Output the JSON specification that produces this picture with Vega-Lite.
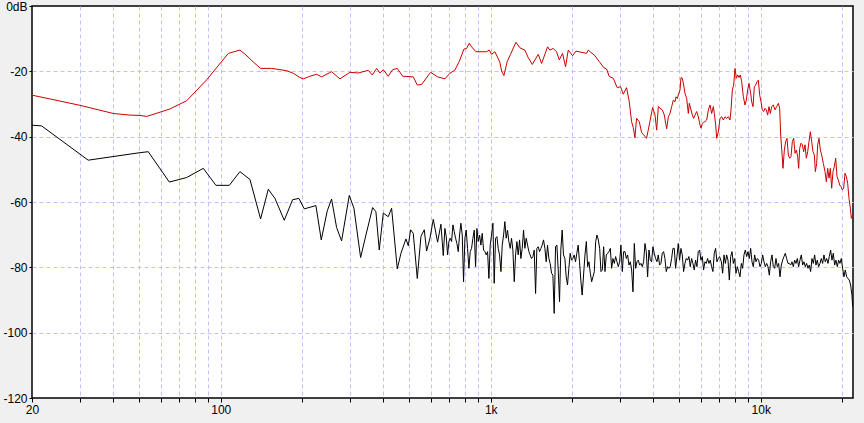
{
  "$schema": "https://vega.github.io/schema/vega-lite/v6.json",
  "width": 821,
  "height": 392,
  "autosize": {"type": "none"},
  "padding": {"left": 32, "top": 6, "right": 11, "bottom": 25},
  "background": "#f0f0f0",
  "config": {
    "view": {"fill": "#ffffff", "stroke": "#000000", "strokeWidth": 1.5},
    "axis": {
      "domain": false,
      "grid": true,
      "gridColor": "#c0c0ff",
      "gridDash": [4, 3],
      "gridWidth": 1,
      "tickColor": "#000000",
      "tickWidth": 1,
      "labelColor": "#000000",
      "labelFont": "Liberation Sans",
      "labelFontSize": 12,
      "labelOverlap": false,
      "labelFlush": false,
      "labelBound": false,
      "title": null
    }
  },
  "datasets": {
    "red": [
      {"f":20,"v":-27.3},{"f":21.4,"v":-27.8},{"f":30.1,"v":-30.4},{"f":40,"v":-32.9},{"f":46.1,"v":-33.4},{"f":50.2,"v":-33.5},{"f":53.2,"v":-33.8},{"f":59.6,"v":-32.5},{"f":64.9,"v":-31.5},{"f":74.8,"v":-29.0},{"f":88.7,"v":-22.6},{"f":106.7,"v":-14.5},{"f":117.8,"v":-13.5},{"f":122.9,"v":-14.7},{"f":133.9,"v":-17.6},{"f":140.5,"v":-19.1},{"f":154.3,"v":-19.1},{"f":175.4,"v":-19.8},{"f":185.6,"v":-20.6},{"f":196.5,"v":-21.9},{"f":202.2,"v":-22.3},{"f":214,"v":-21.5},{"f":226.5,"v":-20.9},{"f":236.4,"v":-21.7},{"f":257.4,"v":-20.1},{"f":276.4,"v":-22.3},{"f":301,"v":-20.3},{"f":323.2,"v":-20.5},{"f":351.9,"v":-19.7},{"f":364.2,"v":-21.1},{"f":377.9,"v":-19.1},{"f":388.7,"v":-20.5},{"f":400,"v":-19.5},{"f":417.4,"v":-21.5},{"f":433.1,"v":-19.5},{"f":450.7,"v":-19.1},{"f":471.7,"v":-21.5},{"f":516.6,"v":-21.7},{"f":534.5,"v":-24.2},{"f":554.7,"v":-24.0},{"f":598.8,"v":-20.3},{"f":635.7,"v":-21.7},{"f":676.7,"v":-22.3},{"f":706,"v":-20.6},{"f":736.8,"v":-19.6},{"f":764.5,"v":-17.0},{"f":795.5,"v":-13.2},{"f":813.8,"v":-13.0},{"f":832.6,"v":-11.4},{"f":849.3,"v":-12.5},{"f":881.2,"v":-14.0},{"f":965.2,"v":-14.0},{"f":987.4,"v":-13.5},{"f":1007,"v":-14.8},{"f":1036,"v":-14.0},{"f":1081,"v":-17.2},{"f":1097,"v":-19.9},{"f":1119,"v":-21.3},{"f":1151,"v":-17.0},{"f":1184,"v":-14.8},{"f":1240,"v":-11.1},{"f":1283,"v":-12.8},{"f":1338,"v":-13.5},{"f":1377,"v":-15.8},{"f":1425,"v":-17.9},{"f":1458,"v":-16.5},{"f":1500,"v":-14.8},{"f":1543,"v":-17.6},{"f":1624,"v":-12.5},{"f":1656,"v":-13.5},{"f":1704,"v":-13.0},{"f":1753,"v":-14.0},{"f":1794,"v":-16.5},{"f":1845,"v":-14.5},{"f":1893,"v":-18.6},{"f":1937,"v":-13.5},{"f":2010,"v":-15.2},{"f":2068,"v":-13.8},{"f":2265,"v":-14.5},{"f":2297,"v":-13.5},{"f":2431,"v":-15.2},{"f":2523,"v":-17.0},{"f":2625,"v":-18.9},{"f":2686,"v":-19.3},{"f":2748,"v":-21.6},{"f":2843,"v":-22.1},{"f":2941,"v":-25.0},{"f":3026,"v":-24.7},{"f":3096,"v":-27.0},{"f":3185,"v":-25.0},{"f":3259,"v":-29.3},{"f":3324,"v":-35.4},{"f":3372,"v":-37.2},{"f":3420,"v":-40.3},{"f":3469,"v":-34.4},{"f":3549,"v":-35.4},{"f":3620,"v":-38.7},{"f":3778,"v":-40.5},{"f":3865,"v":-36.4},{"f":3976,"v":-31.1},{"f":4056,"v":-33.2},
      {"f":4117,"v":-38.0},{"f":4176,"v":-30.8},{"f":4236,"v":-31.3},{"f":4321,"v":-31.8},{"f":4395,"v":-33.4},{"f":4445,"v":-35.9},{"f":4484,"v":-37.6},{"f":4548,"v":-33.9},{"f":4613,"v":-32.9},{"f":4679,"v":-30.8},{"f":4746,"v":-28.8},{"f":4814,"v":-29.3},{"f":4855,"v":-27.8},{"f":4911,"v":-28.3},{"f":4953,"v":-27.2},{"f":5024,"v":-25.7},{"f":5067,"v":-21.9},{"f":5124,"v":-22.1},{"f":5183,"v":-24.2},{"f":5242,"v":-26.7},{"f":5318,"v":-28.3},{"f":5393,"v":-32.9},{"f":5440,"v":-29.8},{"f":5518,"v":-31.8},{"f":5581,"v":-33.4},{"f":5645,"v":-34.4},{"f":5709,"v":-33.4},{"f":5791,"v":-32.3},{"f":5874,"v":-33.9},{"f":5958,"v":-36.4},{"f":6009,"v":-37.4},{"f":6078,"v":-35.9},{"f":6147,"v":-35.6},{"f":6217,"v":-35.4},{"f":6306,"v":-34.9},{"f":6397,"v":-31.8},{"f":6488,"v":-30.3},{"f":6581,"v":-32.9},{"f":6675,"v":-30.8},{"f":6732,"v":-32.9},{"f":6810,"v":-36.4},{"f":6868,"v":-40.5},{"f":6966,"v":-38.5},{"f":7066,"v":-34.4},{"f":7167,"v":-33.9},{"f":7269,"v":-34.9},{"f":7374,"v":-33.9},{"f":7479,"v":-34.4},{"f":7586,"v":-33.9},{"f":7694,"v":-34.9},{"f":7760,"v":-31.8},{"f":7850,"v":-25.7},{"f":7940,"v":-24.2},{"f":8030,"v":-19.1},{"f":8122,"v":-22.1},{"f":8215,"v":-21.1},{"f":8309,"v":-21.9},{"f":8404,"v":-21.1},{"f":8500,"v":-23.2},{"f":8621,"v":-27.8},{"f":8745,"v":-30.3},{"f":8845,"v":-28.8},{"f":8946,"v":-25.7},{"f":9048,"v":-23.7},{"f":9177,"v":-26.7},{"f":9256,"v":-29.3},{"f":9362,"v":-30.8},{"f":9469,"v":-24.7},{"f":9577,"v":-24.2},{"f":9687,"v":-23.2},{"f":9798,"v":-22.7},{"f":9910,"v":-27.2},{"f":10023,"v":-29.3},{"f":10137,"v":-31.8},{"f":10253,"v":-32.3},{"f":10371,"v":-31.3},{"f":10489,"v":-31.8},{"f":10609,"v":-33.4},{"f":10731,"v":-30.8},{"f":10854,"v":-32.9},{"f":10978,"v":-30.8},{"f":11135,"v":-30.3},{"f":11294,"v":-31.8},{"f":11456,"v":-30.8},{"f":11620,"v":-29.8},{"f":11753,"v":-31.3},{"f":11854,"v":-39.5},{"f":11990,"v":-45.1},{"f":12092,"v":-49.7},{"f":12230,"v":-44.1},{"f":12370,"v":-41.5},{"f":12511,"v":-40.5},{"f":12654,"v":-45.6},{"f":12799,"v":-46.6},{"f":12945,"v":-46.1},{"f":13094,"v":-41.5},{"f":13244,"v":-40.5},{"f":13395,"v":-45.1},{"f":13548,"v":-44.1},{"f":13703,"v":-46.1},{"f":13820,"v":-49.7},{"f":13939,"v":-43.6},{"f":14098,"v":-42.0},{"f":14260,"v":-42.5},{"f":14423,"v":-44.6},{"f":14587,"v":-42.5},{"f":14754,"v":-46.6},{"f":14923,"v":-44.6},{"f":15094,"v":-41.5},{"f":15266,"v":-38.5},{"f":15441,"v":-41.5},{"f":15618,"v":-44.6},{"f":15796,"v":-45.6},{"f":15932,"v":-50.7},{"f":16114,"v":-48.2},{"f":16252,"v":-42.5},{"f":16437,"v":-40.5},{"f":16626,"v":-44.1},{"f":16816,"v":-45.6},{"f":17056,"v":-48.2},{"f":17301,"v":-50.7},{"f":17499,"v":-53.8},{"f":17699,"v":-49.7},{"f":17902,"v":-52.7},{"f":18106,"v":-49.7},{"f":18313,"v":-55.8},{"f":18522,"v":-50.7},{"f":18734,"v":-49.2},{"f":18948,"v":-46.6},{"f":19165,"v":-52.2},{"f":19385,"v":-53.3},{"f":19607,"v":-54.8},{"f":19831,"v":-55.3},{"f":20058,"v":-56.3},{"f":20287,"v":-55.8},{"f":20519,"v":-51.2},{"f":20753,"v":-52.2},{"f":20991,"v":-54.3},{"f":21231,"v":-58.9},{"f":21473,"v":-61.9},{"f":21657,"v":-65.0},{"f":21900,"v":-64.0}
    ],
    "black": [
      {"f":20,"v":-36.5},{"f":21.7,"v":-36.7},{"f":32.3,"v":-47.2},{"f":50.2,"v":-44.9},{"f":53.9,"v":-44.6},{"f":64.5,"v":-53.9},{"f":74.8,"v":-52.5},{"f":86.2,"v":-49.7},{"f":96,"v":-54.9},{"f":107.6,"v":-54.9},{"f":117.8,"v":-50.7},{"f":128.3,"v":-53.1},{"f":140.5,"v":-65.2},{"f":150,"v":-56.1},{"f":158.8,"v":-58.9},{"f":171.9,"v":-65.6},{"f":184.6,"v":-59.3},{"f":194.8,"v":-58.9},{"f":203.9,"v":-62.1},{"f":225.2,"v":-61.1},{"f":235.7,"v":-71.6},{"f":248.1,"v":-62.7},{"f":257.4,"v":-59.1},{"f":268.6,"v":-67.8},{"f":280.3,"v":-71.9},{"f":299.3,"v":-58.0},{"f":311.4,"v":-61.9},{"f":329.7,"v":-77.0},{"f":345,"v":-70.1},{"f":365.2,"v":-61.7},{"f":375.7,"v":-63.0},{"f":386.5,"v":-74.7},{"f":400,"v":-63.4},{"f":417.4,"v":-64.5},{"f":429.4,"v":-61.9},{"f":450.7,"v":-80.5},{"f":465,"v":-75.7},{"f":485.3,"v":-71.3},{"f":495,"v":-73.4},{"f":505,"v":-68.5},{"f":516.6,"v":-69.6},{"f":534.5,"v":-83.4},{"f":551.5,"v":-70.5},{"f":567.4,"v":-68.5},{"f":578.8,"v":-75.0},{"f":595.5,"v":-71.1},{"f":612.7,"v":-65.3},{"f":635.7,"v":-72.3},{"f":654,"v":-66.8},{"f":667.2,"v":-76.4},
      {"f":676.6,"v":-68.1},{"f":684.3,"v":-70.6},{"f":692.2,"v":-76.2},{"f":700.1,"v":-72.1},{"f":708.1,"v":-71.1},{"f":716.2,"v":-72.1},{"f":724.4,"v":-67.0},{"f":732.6,"v":-69.1},{"f":741,"v":-71.1},{"f":749.5,"v":-72.7},{"f":758,"v":-75.2},{"f":766.7,"v":-70.1},{"f":775.4,"v":-66.5},{"f":784.3,"v":-70.1},{"f":793.2,"v":-84.4},{"f":802.3,"v":-71.1},{"f":811.4,"v":-68.6},{"f":820.7,"v":-74.2},{"f":830.1,"v":-80.3},{"f":839.6,"v":-75.2},{"f":849.3,"v":-74.2},{"f":859,"v":-71.1},{"f":868.8,"v":-68.6},{"f":878.7,"v":-79.8},{"f":888.8,"v":-68.1},{"f":898.9,"v":-72.1},{"f":909.2,"v":-70.1},{"f":919.6,"v":-73.2},{"f":930.1,"v":-69.6},{"f":940.8,"v":-74.7},{"f":951.5,"v":-75.2},{"f":962.4,"v":-76.2},{"f":973.4,"v":-75.2},{"f":984.5,"v":-83.4},{"f":995.8,"v":-73.2},{"f":1007,"v":-70.1},{"f":1019,"v":-66.5},{"f":1030,"v":-84.9},{"f":1042,"v":-71.1},{"f":1054,"v":-70.6},{"f":1066,"v":-74.2},{"f":1078,"v":-76.2},{"f":1091,"v":-81.3},{"f":1103,"v":-73.2},{"f":1116,"v":-70.1},{"f":1128,"v":-66.0},{"f":1141,"v":-71.1},{"f":1154,"v":-68.6},{"f":1167,"v":-72.1},{"f":1181,"v":-74.2},{"f":1194,"v":-71.1},{"f":1208,"v":-74.7},{"f":1222,"v":-84.4},{"f":1236,"v":-76.2},{"f":1250,"v":-72.1},{"f":1264,"v":-76.2},{"f":1279,"v":-71.6},{"f":1293,"v":-77.3},{"f":1308,"v":-74.2},{"f":1323,"v":-68.6},{"f":1338,"v":-74.2},{"f":1353,"v":-71.1},{"f":1369,"v":-73.2},{"f":1385,"v":-75.2},{"f":1400,"v":-76.2},{"f":1416,"v":-77.3},{"f":1433,"v":-76.7},{"f":1449,"v":-74.7},{"f":1466,"v":-88.0},{"f":1482,"v":-74.2},{"f":1499,"v":-73.7},{"f":1516,"v":-75.2},{"f":1534,"v":-74.2},{"f":1551,"v":-73.2},{"f":1569,"v":-71.6},{"f":1587,"v":-74.2},{"f":1605,"v":-78.3},{"f":1623,"v":-73.2},{"f":1642,"v":-77.3},{"f":1660,"v":-78.8},{"f":1680,"v":-81.8},{"f":1699,"v":-82.4},{"f":1718,"v":-94.1},{"f":1738,"v":-73.7},{"f":1758,"v":-73.2},{"f":1778,"v":-80.8},{"f":1798,"v":-90.5},{"f":1818,"v":-74.7},{"f":1839,"v":-68.6},{"f":1860,"v":-76.2},{"f":1882,"v":-77.3},{"f":1903,"v":-82.9},{"f":1925,"v":-85.4},{"f":1947,"v":-80.3},{"f":1969,"v":-75.7},{"f":1992,"v":-77.8},{"f":2014,"v":-77.3},{"f":2037,"v":-76.2},{"f":2061,"v":-78.3},{"f":2084,"v":-75.7},{"f":2108,"v":-73.2},{"f":2132,"v":-78.3},{"f":2156,"v":-83.9},{"f":2181,"v":-88.5},
      {"f":2234,"v":-76.2},{"f":2260,"v":-72.1},{"f":2285,"v":-79.8},{"f":2311,"v":-78.3},{"f":2338,"v":-81.8},{"f":2365,"v":-84.4},{"f":2392,"v":-82.9},{"f":2419,"v":-81.3},{"f":2447,"v":-72.1},{"f":2475,"v":-70.1},{"f":2503,"v":-71.6},{"f":2532,"v":-74.2},{"f":2560,"v":-81.3},{"f":2590,"v":-80.8},{"f":2619,"v":-73.7},{"f":2649,"v":-81.3},{"f":2680,"v":-76.2},{"f":2710,"v":-75.7},{"f":2741,"v":-75.2},{"f":2773,"v":-74.2},{"f":2804,"v":-80.3},{"f":2836,"v":-77.3},{"f":2869,"v":-78.8},{"f":2901,"v":-76.7},{"f":2935,"v":-78.3},{"f":2968,"v":-79.8},{"f":3002,"v":-78.3},{"f":3036,"v":-73.2},{"f":3071,"v":-81.3},{"f":3106,"v":-75.2},{"f":3142,"v":-75.2},{"f":3178,"v":-77.3},{"f":3214,"v":-76.2},{"f":3251,"v":-79.3},{"f":3288,"v":-78.3},{"f":3326,"v":-80.8},{"f":3364,"v":-87.5},{"f":3402,"v":-72.7},{"f":3441,"v":-80.3},{"f":3480,"v":-78.3},{"f":3520,"v":-77.8},{"f":3560,"v":-79.3},{"f":3601,"v":-78.8},{"f":3642,"v":-79.8},{"f":3684,"v":-78.3},{"f":3726,"v":-72.7},{"f":3768,"v":-75.2},{"f":3811,"v":-82.9},{"f":3855,"v":-74.7},{"f":3899,"v":-77.8},{"f":3943,"v":-78.3},{"f":3988,"v":-73.7},{"f":4034,"v":-75.7},{"f":4080,"v":-77.3},{"f":4127,"v":-78.3},{"f":4174,"v":-76.2},{"f":4221,"v":-79.3},{"f":4270,"v":-78.8},{"f":4318,"v":-75.7},{"f":4368,"v":-75.2},{"f":4418,"v":-77.3},{"f":4468,"v":-81.3},{"f":4519,"v":-79.8},{"f":4571,"v":-80.3},{"f":4623,"v":-79.8},{"f":4676,"v":-77.3},{"f":4730,"v":-74.2},{"f":4784,"v":-74.2},{"f":4838,"v":-80.3},{"f":4894,"v":-76.7},{"f":4950,"v":-72.7},{"f":5006,"v":-77.8},{"f":5064,"v":-74.2},{"f":5122,"v":-76.2},{"f":5180,"v":-81.3},{"f":5239,"v":-78.8},{"f":5299,"v":-77.3},{"f":5360,"v":-77.8},{"f":5421,"v":-76.7},{"f":5483,"v":-79.8},{"f":5546,"v":-77.3},{"f":5609,"v":-78.8},{"f":5673,"v":-80.8},{"f":5738,"v":-77.8},{"f":5804,"v":-79.8},{"f":5870,"v":-75.2},{"f":5937,"v":-74.7},{"f":6005,"v":-77.8},{"f":6074,"v":-76.7},{"f":6143,"v":-80.8},{"f":6213,"v":-78.3},{"f":6284,"v":-78.8},{"f":6356,"v":-77.3},{"f":6429,"v":-78.8},{"f":6502,"v":-77.8},{"f":6577,"v":-79.8},{"f":6652,"v":-81.3},{"f":6728,"v":-75.7},{"f":6805,"v":-74.2},{"f":6883,"v":-78.3},{"f":6961,"v":-77.3},{"f":7041,"v":-76.7},
      {"f":7147,"v":-78.3},{"f":7228,"v":-81.8},{"f":7311,"v":-76.2},{"f":7395,"v":-78.8},{"f":7479,"v":-76.2},{"f":7565,"v":-77.8},{"f":7651,"v":-83.9},{"f":7739,"v":-76.7},{"f":7827,"v":-75.2},{"f":7916,"v":-78.8},{"f":8007,"v":-77.3},{"f":8098,"v":-81.8},{"f":8191,"v":-79.8},{"f":8284,"v":-81.3},{"f":8379,"v":-82.9},{"f":8475,"v":-78.8},{"f":8571,"v":-80.3},{"f":8669,"v":-76.2},{"f":8768,"v":-74.7},{"f":8869,"v":-76.7},{"f":8970,"v":-75.2},{"f":9073,"v":-77.3},{"f":9177,"v":-74.2},{"f":9282,"v":-78.3},{"f":9388,"v":-79.8},{"f":9495,"v":-76.2},{"f":9604,"v":-78.3},{"f":9713,"v":-77.3},{"f":9824,"v":-77.8},{"f":9937,"v":-79.8},{"f":10050,"v":-78.8},{"f":10165,"v":-76.2},{"f":10281,"v":-78.3},{"f":10399,"v":-79.8},{"f":10518,"v":-78.8},{"f":10638,"v":-79.8},{"f":10760,"v":-82.4},{"f":10883,"v":-78.3},{"f":11007,"v":-76.2},{"f":11133,"v":-79.8},{"f":11260,"v":-80.3},{"f":11389,"v":-77.3},{"f":11519,"v":-79.8},{"f":11651,"v":-78.8},{"f":11784,"v":-82.9},{"f":11919,"v":-79.3},{"f":12055,"v":-77.8},{"f":12193,"v":-76.7},{"f":12332,"v":-75.7},{"f":12473,"v":-77.3},{"f":12616,"v":-78.8},{"f":12760,"v":-78.8},{"f":12906,"v":-79.3},{"f":13053,"v":-78.3},{"f":13203,"v":-79.8},{"f":13354,"v":-77.8},{"f":13506,"v":-78.8},{"f":13661,"v":-77.3},{"f":13817,"v":-79.8},{"f":13974,"v":-77.8},{"f":14134,"v":-76.2},{"f":14295,"v":-79.3},{"f":14459,"v":-78.3},{"f":14624,"v":-79.8},{"f":14791,"v":-78.8},{"f":14960,"v":-80.3},{"f":15131,"v":-79.3},{"f":15304,"v":-81.3},{"f":15479,"v":-77.3},{"f":15656,"v":-78.8},{"f":15835,"v":-76.2},{"f":16016,"v":-79.3},{"f":16199,"v":-77.8},{"f":16384,"v":-79.8},{"f":16571,"v":-78.8},{"f":16761,"v":-77.3},{"f":16952,"v":-78.8},{"f":17146,"v":-76.2},{"f":17342,"v":-78.3},{"f":17541,"v":-77.3},{"f":17741,"v":-78.8},{"f":17944,"v":-76.7},{"f":18149,"v":-74.7},{"f":18357,"v":-77.8},{"f":18566,"v":-75.7},{"f":18779,"v":-79.3},{"f":18993,"v":-77.8},{"f":19210,"v":-79.8},{"f":19430,"v":-77.8},{"f":19652,"v":-78.8},{"f":19877,"v":-77.3},{"f":20104,"v":-80.3},{"f":20334,"v":-82.9},{"f":20566,"v":-80.8},{"f":20801,"v":-82.9},{"f":21039,"v":-83.4},{"f":21279,"v":-83.9},{"f":21522,"v":-85.4},{"f":21767,"v":-88.5},{"f":21900,"v":-92.0}
    ]
  },
  "layer": [
    {
      "data": {"name": "red"},
      "mark": {"type": "line", "color": "#cc0000", "strokeWidth": 1, "clip": true},
      "encoding": {
        "x": {
          "field": "f", "type": "quantitative",
          "scale": {"type": "log", "domain": [20, 21965], "nice": false},
          "axis": {
            "values": [20,30,40,50,60,70,80,90,100,200,300,400,500,600,700,800,900,1000,2000,3000,4000,5000,6000,7000,8000,9000,10000,20000],
            "labelExpr": "datum.value == 20 ? '20' : datum.value == 100 ? '100' : datum.value == 1000 ? '1k' : datum.value == 10000 ? '10k' : ''",
            "tickSize": 4,
            "labelPadding": 2,
            "gridOpacity": {"condition": {"test": "datum.value <= 20", "value": 0}, "value": 1}
          }
        },
        "y": {
          "field": "v", "type": "quantitative",
          "scale": {"domain": [-120, 0], "nice": false, "zero": false},
          "axis": {
            "values": [0,-20,-40,-60,-80,-100,-120],
            "labelExpr": "datum.value == 0 ? '0dB' : '' + datum.value",
            "tickSize": 3,
            "labelPadding": 2,
            "gridOpacity": {"condition": {"test": "datum.value == 0 || datum.value == -120", "value": 0}, "value": 1}
          }
        }
      }
    },
    {
      "data": {"name": "black"},
      "mark": {"type": "line", "color": "#000000", "strokeWidth": 1, "clip": true},
      "encoding": {
        "x": {"field": "f", "type": "quantitative"},
        "y": {"field": "v", "type": "quantitative"}
      }
    }
  ]
}
